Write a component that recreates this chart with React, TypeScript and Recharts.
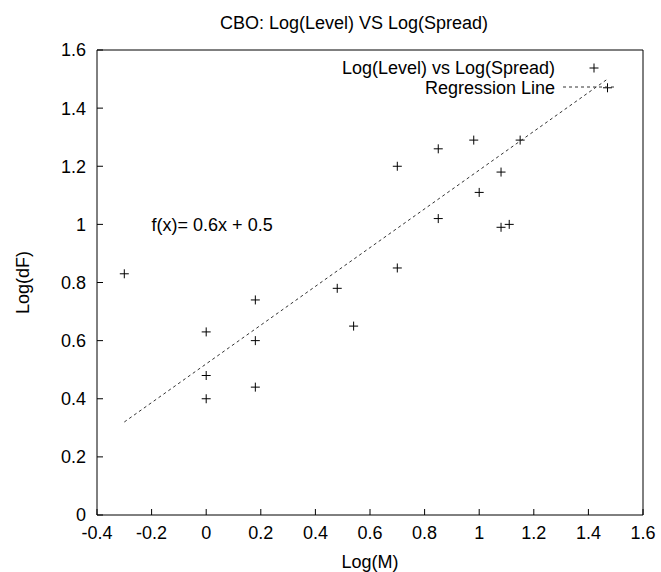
import {
  ScatterChart,
  Scatter,
  XAxis,
  YAxis,
  ReferenceDot,
} from "recharts";

const FONT = "'Liberation Sans', Arial, sans-serif";

const xTicks = [-0.4, -0.2, 0, 0.2, 0.4, 0.6, 0.8, 1, 1.2, 1.4, 1.6];
const yTicks = [0, 0.2, 0.4, 0.6, 0.8, 1, 1.2, 1.4, 1.6];

// observed points: Log(M) vs Log(dF)
const logM = [
  -0.3, 0, 0, 0, 0.18, 0.18, 0.18, 0.48, 0.54, 0.7, 0.7, 0.85, 0.85, 0.98,
  1.0, 1.08, 1.08, 1.11, 1.15, 1.47,
];
const logDF = [
  0.83, 0.63, 0.48, 0.4, 0.74, 0.6, 0.44, 0.78, 0.65, 0.85, 1.2, 1.26, 1.02,
  1.29, 1.11, 1.18, 0.99, 1.0, 1.29, 1.47,
];

// regression line end points
const fitX = [-0.3, 1.47];
const fitY = [0.32, 1.5];

const points = logM.map((x, i) => ({ x, y: logDF[i] }));
const fitPoints = fitX.map((x, i) => ({ x, y: fitY[i] }));

const Cross = (props: any) => {
  const { cx, cy } = props;
  return (
    <g>
      <line x1={cx - 4.5} y1={cy} x2={cx + 4.5} y2={cy} stroke="#000" />
      <line x1={cx} y1={cy - 4.5} x2={cx} y2={cy + 4.5} stroke="#000" />
    </g>
  );
};

const Empty = () => <g />;

const textStyle = { fill: "#000", fontSize: 18, fontFamily: FONT };

// title + key drawn over the chart, gnuplot style
const Overlay = () => (
  <svg
    width={661}
    height={572}
    style={{ position: "absolute", left: 0, top: 0, pointerEvents: "none" }}
  >
    <text x={354} y={29} textAnchor="middle" {...textStyle}>
      CBO: Log(Level) VS Log(Spread)
    </text>
    <text x={555} y={73.5} textAnchor="end" {...textStyle}>
      Log(Level) vs Log(Spread)
    </text>
    <line x1={589.5} y1={68} x2={598.5} y2={68} stroke="#000" />
    <line x1={594} y1={63.5} x2={594} y2={72.5} stroke="#000" />
    <text x={555} y={94} textAnchor="end" {...textStyle}>
      Regression Line
    </text>
    <line x1={563} y1={87} x2={617} y2={87} stroke="#333" strokeDasharray="3 3" />
  </svg>
);

function App() {
  return (
    <div style={{ position: "fixed", left: 0, top: 0, width: 661, height: 572, background: "#fff" }}>
      <ScatterChart
        width={661}
        height={572}
        margin={{ top: 49, right: 17, bottom: 0, left: 0 }}
      >
        <XAxis
          type="number"
          dataKey="x"
          domain={[-0.4, 1.6]}
          ticks={xTicks}
          interval={0}
          allowDataOverflow
          height={57}
          tickSize={-6}
          tickMargin={17}
          stroke="#000"
          tick={textStyle}
          label={{ value: "Log(M)", position: "insideBottom", offset: 4, ...textStyle }}
        />
        <XAxis
          xAxisId="top"
          orientation="top"
          type="number"
          domain={[-0.4, 1.6]}
          ticks={xTicks}
          interval={0}
          height={1}
          tickSize={-6}
          stroke="#000"
          tick={Empty}
        />
        <YAxis
          type="number"
          dataKey="y"
          domain={[0, 1.6]}
          ticks={yTicks}
          interval={0}
          allowDataOverflow
          width={97}
          tickSize={-6}
          tickMargin={17}
          stroke="#000"
          tick={textStyle}
          label={{ value: "Log(dF)", angle: -90, position: "center", dx: -26, ...textStyle }}
        />
        <YAxis
          yAxisId="right"
          orientation="right"
          type="number"
          domain={[0, 1.6]}
          ticks={yTicks}
          interval={0}
          width={1}
          tickSize={-6}
          stroke="#000"
          tick={Empty}
        />
        <Scatter
          name="Log(Level) vs Log(Spread)"
          data={points}
          shape={Cross}
          isAnimationActive={false}
        />
        <Scatter
          name="Regression Line"
          data={fitPoints}
          line={{ stroke: "#333", strokeDasharray: "3 3" }}
          shape={Empty}
          isAnimationActive={false}
        />
        <ReferenceDot
          x={-0.2}
          y={1.0}
          r={0}
          fill="none"
          stroke="none"
          label={{ value: "f(x)= 0.6x + 0.5", position: "right", offset: 0, ...textStyle }}
        />
      </ScatterChart>
      <Overlay />
    </div>
  );
}

export default App;
